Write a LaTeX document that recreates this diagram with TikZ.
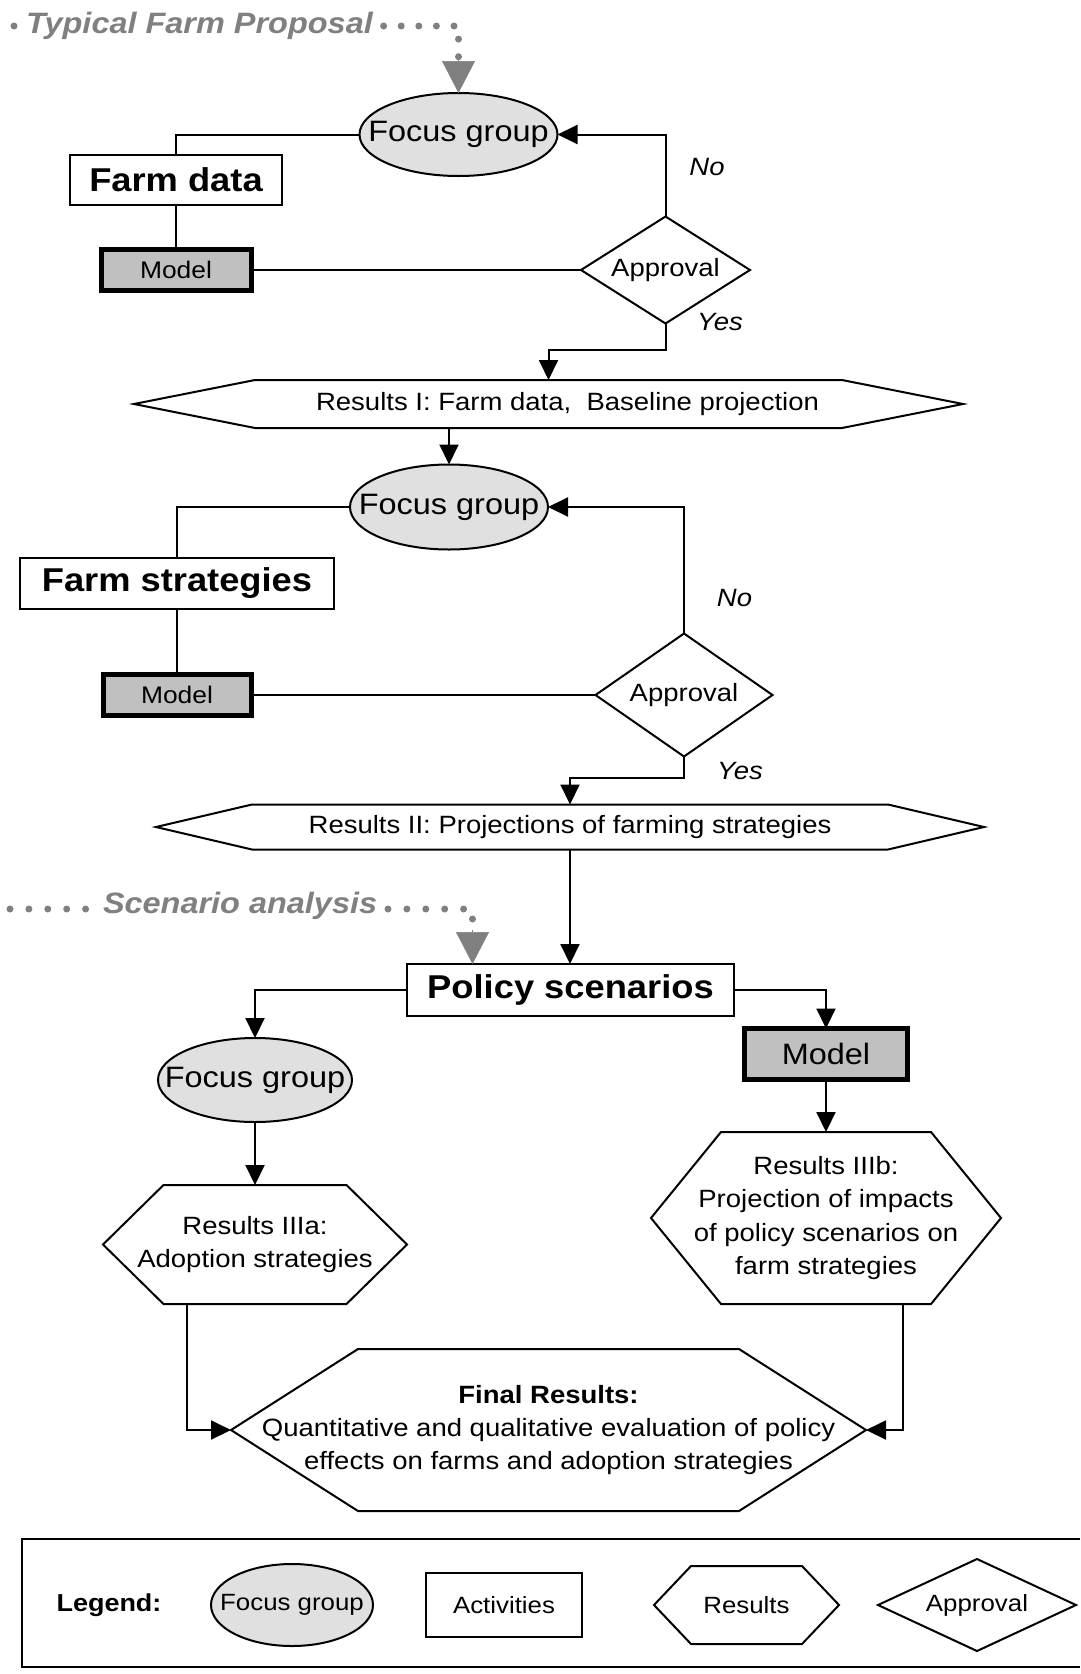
\documentclass[tikz,border=0pt]{standalone}
\usepackage{fontspec}
\setmainfont{Liberation Sans}[FakeStretch=1.1]
\usetikzlibrary{arrows.meta,shapes.geometric}
\definecolor{fggray}{HTML}{E0E0E0}
\definecolor{mgray}{HTML}{C0C0C0}
\definecolor{tgray}{HTML}{808080}
\newcommand\fsBig{\fontsize{33}{40}\selectfont\bfseries}
\newcommand\fsTitle{\fontsize{29.5}{35}\selectfont\bfseries\itshape}
\newcommand\fsFG{\fontsize{29.5}{35}\selectfont}
\newcommand\fsMid{\fontsize{25}{33}\selectfont}
\newcommand\fsSmall{\fontsize{24}{29}\selectfont}
\newcommand\fsLeg{\fontsize{23.5}{28}\selectfont}
\newcommand\hexpath[2]{\draw[outl] (#1.west) -- ([xshift=#2pt]#1.north west) -- ([xshift=-#2pt]#1.north east) -- (#1.east) -- ([xshift=-#2pt]#1.south east) -- ([xshift=#2pt]#1.south west) -- cycle;}
\newcommand\diapath[1]{\draw[outl] (#1.north) -- (#1.east) -- (#1.south) -- (#1.west) -- cycle;}
\begin{document}
\begin{tikzpicture}[x=1pt,y=-1pt,
  every node/.style={inner sep=0pt, outer sep=0pt},
  fgnode/.style={ellipse, draw, line width=2pt, fill=fggray, font=\fsFG},
  actbox/.style={draw, line width=2pt, font=\fsBig},
  modelbox/.style={draw, line width=5pt, fill=mgray, font=\fsSmall},
  shp/.style={font=\fsMid, align=center},
  outl/.style={draw, line width=2pt, line join=miter},
  conn/.style={line width=2pt},
  arr/.style={line width=2pt, -{Triangle[length=20pt,width=19pt]}},
  graydots/.style={draw=tgray, line width=7pt, line cap=round, dash pattern=on 0pt off 17.6pt},
  graydotsb/.style={draw=tgray, line width=7pt, line cap=round, dash pattern=on 0pt off 18.9pt},
  grayarr/.style={draw=tgray, color=tgray, line width=0.5pt, -{Triangle[length=32pt,width=33pt]}},
  titletext/.style={font=\fsTitle, text=tgray, fill=white, inner xsep=3pt, inner ysep=2pt},
  lab/.style={font=\fsMid\itshape},
]
\useasboundingbox (0,0) rectangle (1080,1674);

% ---------- Section 1 ----------
\node[fgnode, minimum width=198pt, minimum height=83pt] (fg1) at (458.5,134.5) {\makebox[0pt]{Focus group}};
\node[actbox, minimum width=212pt, minimum height=50pt] (fd) at (176,180) {Farm data};
\node[modelbox, minimum width=150pt, minimum height=41pt] (m1) at (176,270) {Model};
\node[shp, minimum width=169pt, minimum height=107pt] (ap1) at (665.5,270) {Approval};
\diapath{ap1}
\node[lab] (no1) at (707,167) {No};
\node[lab] (yes1) at (720,322) {Yes};
\node[shp, minimum width=829pt, minimum height=48pt] (r1) at (548.5,404) {\makebox[0pt]{\hspace*{38pt}Results I: Farm data, \ Baseline projection}};
\hexpath{r1}{121}

\coordinate (t1a) at (14,26);
\coordinate (t1c) at (458.5,58);
\draw[graydots] (t1a) -- (t1c |- t1a) -- (t1c);
\node[titletext, anchor=base west] (t1) at (23,33.5) {Typical Farm Proposal};
\draw[grayarr] (t1c) -- (fg1.north);

\draw[conn] (fg1.west) -| (fd.north);
\draw[conn] (fd.south) -- (m1.north);
\draw[conn] (m1.east) -- (ap1.west);
\draw[arr] (ap1.north) |- (fg1.east);
\draw[arr] (ap1.south) -- ++(0,26) -| (r1.north);

% ---------- Section 2 ----------
\node[fgnode, minimum width=198pt, minimum height=85pt] (fg2) at (449,507) {\makebox[0pt]{Focus group}};
\node[actbox, minimum width=314pt, minimum height=51pt] (fs) at (177,583.5) {Farm strategies};
\node[modelbox, minimum width=148pt, minimum height=41pt] (m2) at (177,695) {Model};
\node[shp, minimum width=177pt, minimum height=123pt] (ap2) at (684,695) {Approval};
\diapath{ap2}
\node[lab] (no2) at (734.5,598) {No};
\node[lab] (yes2) at (740,771) {Yes};
\node[shp, minimum width=828pt, minimum height=45pt] (r2) at (570,827) {Results II: Projections of farming strategies};
\hexpath{r2}{96}

\draw[arr] (r1.south -| fg2.north) -- (fg2.north);
\draw[conn] (fg2.west) -| (fs.north);
\draw[conn] (fs.south) -- (m2.north);
\draw[conn] (m2.east) -- (ap2.west);
\draw[arr] (ap2.north) |- (fg2.east);
\draw[arr] (ap2.south) -- ++(0,21) -| (r2.north);

% ---------- Section 3 ----------
\node[actbox, minimum width=327pt, minimum height=52pt] (pol) at (570.5,990) {Policy scenarios};
\node[modelbox, font=\fsFG, minimum width=163pt, minimum height=51pt] (m3) at (826,1054) {Model};
\node[fgnode, minimum width=194pt, minimum height=84pt] (fg3) at (255,1080) {\makebox[0pt]{Focus group}};
\node[shp, minimum width=304pt, minimum height=119pt] (r3a) at (255,1244.5) {Results IIIa:\\Adoption strategies};
\hexpath{r3a}{60.5}
\node[shp, minimum width=350pt, minimum height=172pt, font=\fontsize{25}{33.5}\selectfont] (r3b) at (826,1218) {Results IIIb:\\Projection of impacts\\of policy scenarios on\\farm strategies};
\hexpath{r3b}{70}
\node[shp, minimum width=635pt, minimum height=162pt] (fin) at (548.5,1430) {{\bfseries Final Results:}\\Quantitative and qualitative evaluation of policy\\effects on farms and adoption strategies};
\hexpath{fin}{127}

\coordinate (s2a) at (10,909);
\coordinate (s2c) at (472.5,930);
\draw[graydotsb] (s2a) -- (s2c |- s2a) -- (s2c);
\node[titletext, anchor=base west] (t2) at (100,913) {Scenario analysis};
\draw[grayarr] (s2c) -- (s2c |- pol.north);

\draw[arr] (r2.south) -- (r2.south |- pol.north);
\draw[arr] (pol.east) -| (m3.north);
\draw[arr] (pol.west) -| (fg3.north);
\draw[arr] (fg3.south) -- (r3a.north);
\draw[arr] (m3.south) -- (r3b.north);
\draw[arr] ([xshift=-68pt]r3a.south) |- (fin.west);
\draw[arr] ([xshift=77pt]r3b.south) |- (fin.east);

% ---------- Legend ----------
\draw[line width=2pt] (1080,1539) -- (22,1539) -- (22,1667) -- (1080,1667);
\node[font=\fontsize{24.5}{29}\selectfont\bfseries] (leg) at (109,1605) {Legend:};
\node[fgnode, font=\fsLeg, minimum width=162pt, minimum height=82pt] (lfg) at (292,1605) {\makebox[0pt]{Focus group}};
\node[draw, line width=2pt, font=\fsLeg, minimum width=156pt, minimum height=64pt] (lact) at (504,1605) {Activities};
\node[shp, font=\fsLeg, minimum width=185pt, minimum height=78pt] (lres) at (746.5,1605) {Results};
\hexpath{lres}{37}
\node[shp, font=\fsLeg, minimum width=198pt, minimum height=92pt] (lapp) at (977,1605) {Approval};
\diapath{lapp}
\end{tikzpicture}
\end{document}
